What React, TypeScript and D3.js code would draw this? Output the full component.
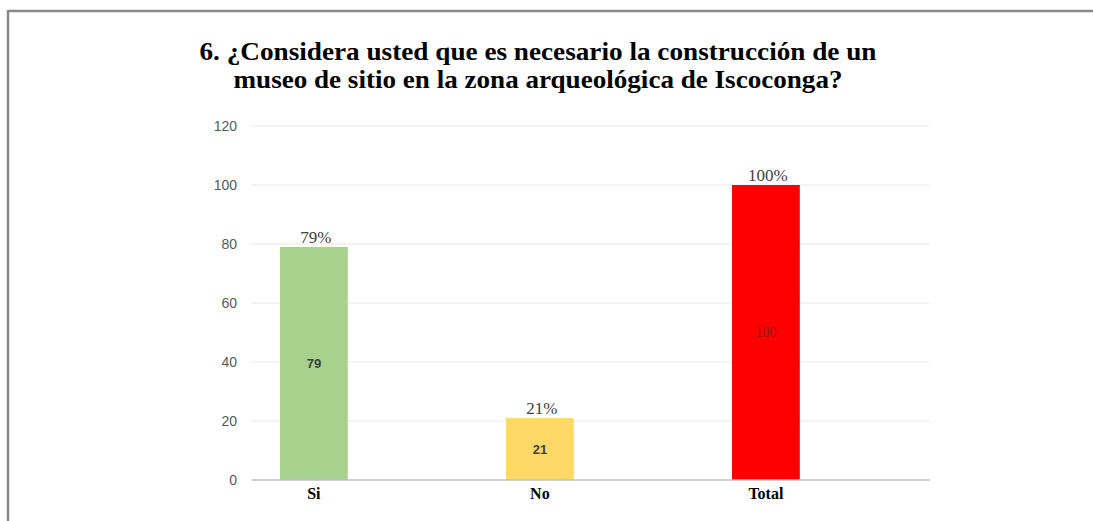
import React from "react";
import * as d3 from "d3";

const categories = ["Si", "No", "Total"];
const values = [79, 21, 100];
const percentLabels = ["79%", "21%", "100%"];
const yTicks = [0, 20, 40, 60, 80, 100, 120];
const colors = ["#A9D18E", "#FFD966", "#FF0000"];
const titleLines = [
  "6. ¿Considera usted que es necesario la construcción de un",
  "museo de sitio en la zona arqueológica de Iscoconga?",
];

export default function App() {
  const W = 1093, H = 521;
  const gridLeft = 252, gridRight = 930, top = 126, bottom = 480;
  const step = 226;
  const bandStart = 280 - 0.35 * step;
  const x = d3
    .scaleBand<string>()
    .domain(categories)
    .range([bandStart, bandStart + step * 3])
    .paddingInner(0.7)
    .paddingOuter(0.35);
  const y = d3.scaleLinear().domain([0, 120]).range([bottom, top]);
  const serif = "'Liberation Serif', 'Times New Roman', serif";
  const sans = "'Liberation Sans', Arial, sans-serif";
  const titleWidths = [677, 609];
  return (
    <svg width={W} height={H} style={{ position: "absolute", left: 0, top: 0, background: "#fff" }}>
      <rect x={0} y={0} width={W} height={H} fill="#fff" />
      <line x1={8} y1={11} x2={W} y2={11} stroke="#8a8a8a" strokeWidth={2.5} />
      <line x1={8} y1={10} x2={8} y2={H} stroke="#8a8a8a" strokeWidth={2.5} />
      {titleLines.map((t, i) => (
        <text
          key={i}
          x={538}
          y={60 + i * 28}
          textAnchor="middle"
          fontFamily={serif}
          fontWeight="bold"
          fontSize={24.5}
          fill="#000"
          textLength={titleWidths[i]}
          lengthAdjust="spacingAndGlyphs"
        >
          {t}
        </text>
      ))}
      {yTicks.map((t) => (
        <g key={t}>
          {t > 0 && <line x1={gridLeft} x2={gridRight} y1={y(t)} y2={y(t)} stroke="#e8e8e8" strokeWidth={1} />}
          <text x={237} y={y(t)} dy="0.35em" textAnchor="end" fontFamily={sans} fontSize={14} fill="#595959">
            {t}
          </text>
        </g>
      ))}
      {categories.map((c, i) => {
        const bx = x(c)!;
        const bw = x.bandwidth();
        const cx = bx + bw / 2;
        return (
          <g key={c}>
            <rect x={bx} y={y(values[i])} width={bw} height={y(0) - y(values[i])} fill={colors[i]} />
            <text x={cx + 2} y={y(values[i]) - 4} textAnchor="middle" fontFamily={serif} fontSize={17} fill="#404040">
              {percentLabels[i]}
            </text>
            {i < 2 ? (
              <text x={cx} y={(y(values[i]) + y(0)) / 2} dy="0.35em" textAnchor="middle" fontFamily={sans} fontWeight="bold" fontSize={13} fill="#404040">
                {values[i]}
              </text>
            ) : (
              <text x={cx} y={(y(values[i]) + y(0)) / 2} dy="0.35em" textAnchor="middle" fontFamily={serif} fontSize={14} fill="#8b1a1a">
                {values[i]}
              </text>
            )}
            <text x={cx} y={499} textAnchor="middle" fontFamily={serif} fontWeight="bold" fontSize={16} fill="#000">
              {c}
            </text>
          </g>
        );
      })}
      <line x1={gridLeft} x2={gridRight} y1={y(0)} y2={y(0)} stroke="#bfbfbf" strokeWidth={1.5} />
    </svg>
  );
}
